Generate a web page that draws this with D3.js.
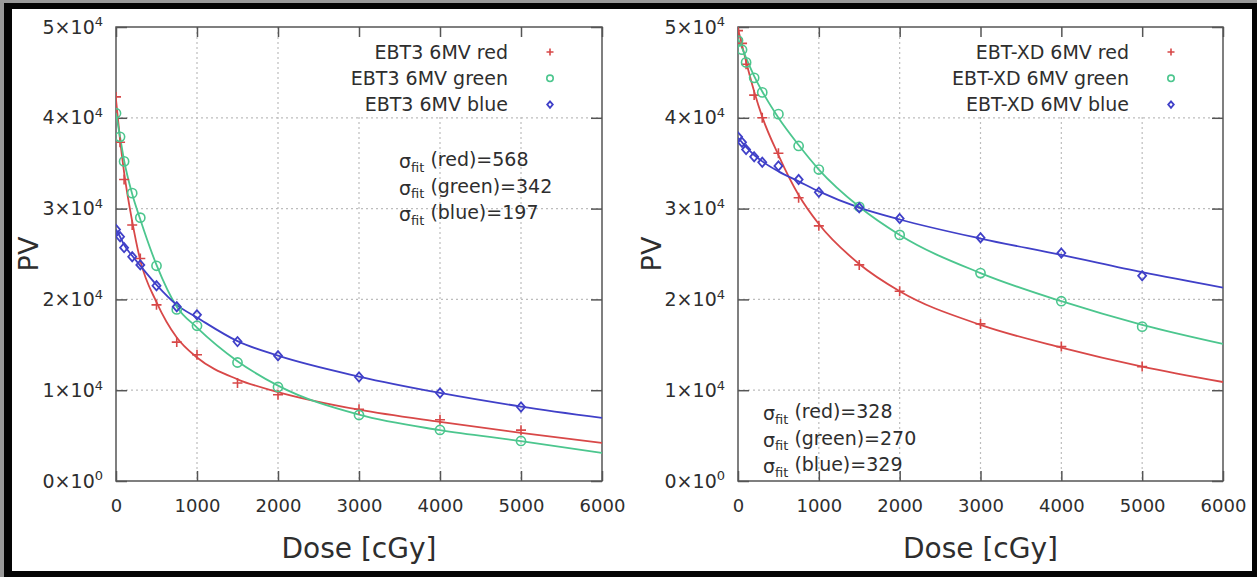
<!DOCTYPE html>
<html>
<head>
<meta charset="utf-8">
<script src="https://cdn.jsdelivr.net/npm/d3@7"></script>
<style>
html,body{margin:0;padding:0;background:#000;}
svg{display:block;}
</style>
</head>
<body>
<svg id="chart" width="1257" height="577"></svg>
<script>
// measured dose points [cGy]
var doses = [0, 50, 100, 200, 300, 500, 750, 1000, 1500, 2000, 3000, 4000, 5000];
var fitDoses = [0, 50, 100, 200, 300, 500, 750, 1000, 1500, 2000, 3000, 4000, 5000, 6000];

// EBT3, measured pixel values
var ebt3Red   = [42300, 37300, 33200, 28200, 24500, 19400, 15300, 13900, 10800, 9500, 7900, 6750, 5600];
var ebt3Green = [40500, 37900, 35200, 31700, 29000, 23700, 18900, 17100, 13050, 10350, 7270, 5620, 4410];
var ebt3Blue  = [27700, 26900, 25700, 24700, 23800, 21500, 19200, 18300, 15350, 13800, 11450, 9690, 8150];
// EBT3, fitted curves
var ebt3RedFit   = [42000, 37600, 34000, 28600, 24300, 19700, 15800, 13600, 11200, 9800, 7850, 6500, 5300, 4200];
var ebt3GreenFit = [40500, 37900, 35300, 31600, 28800, 23800, 19200, 16900, 13200, 10500, 7300, 5600, 4400, 3100];
var ebt3BlueFit  = [27700, 26900, 26000, 24800, 23700, 21600, 19400, 18000, 15400, 13800, 11500, 9700, 8200, 6950];

// EBT-XD, measured pixel values
var xdRed   = [49600, 48200, 45900, 42500, 40000, 36100, 31200, 28100, 23800, 20900, 17300, 14800, 12600];
var xdGreen = [48500, 47500, 46100, 44400, 42800, 40400, 36900, 34300, 30200, 27100, 22900, 19800, 17000];
var xdBlue  = [37900, 37300, 36500, 35700, 35100, 34700, 33200, 31800, 30100, 28900, 26800, 25100, 22600];
// EBT-XD, fitted curves
var xdRedFit   = [49800, 48000, 46200, 42900, 40100, 35900, 31500, 28300, 23900, 20900, 17200, 14700, 12600, 10900];
var xdGreenFit = [48700, 47700, 46600, 44600, 42900, 40000, 37000, 34300, 30200, 27100, 22900, 19800, 17200, 15100];
var xdBlueFit  = [37800, 37300, 36800, 35900, 35200, 34100, 33000, 31900, 30100, 28800, 26700, 24900, 23000, 21300];

var doseTicks = [0, 1000, 2000, 3000, 4000, 5000, 6000];
var pvTicks = [0, 10000, 20000, 30000, 40000, 50000];

var channels = ["red", "green", "blue"];
var ebt3Legend = ["EBT3 6MV red", "EBT3 6MV green", "EBT3 6MV blue"];
var xdLegend = ["EBT-XD 6MV red", "EBT-XD 6MV green", "EBT-XD 6MV blue"];
var ebt3Sigma = [568, 342, 197];
var xdSigma = [328, 270, 329];

var colors = {red: "#d84848", green: "#4cc68e", blue: "#4040c8"};
var FONT = "'DejaVu Sans', Verdana, sans-serif";
var TEXT = "#2e2e2e";

var svg = d3.select("#chart");

// picture frame: grey rim, black border, white page
svg.append("rect").attr("width", 1257).attr("height", 577).attr("fill", "#9a9a9a");
svg.append("rect").attr("x", 4).attr("y", 3).attr("width", 1253).attr("height", 574).attr("fill", "#050505");
svg.append("rect").attr("x", 12).attr("y", 9).attr("width", 1240).attr("height", 562).attr("fill", "#fff");

/**
 * draw a marker symbol
 * @param g group
 * @param ch channel name
 * @param s scale factor
 */
function drawMarker(g, ch, s){
    if(ch === "red"){
        g.append("path").attr("d", "M" + (-5*s) + ",0H" + (5*s) + "M0," + (-5*s) + "V" + (5*s))
            .attr("stroke", colors.red).attr("stroke-width", 1.6).attr("fill", "none");
    }else if(ch === "green"){
        g.append("circle").attr("r", 4.6*s)
            .attr("stroke", colors.green).attr("stroke-width", 1.6).attr("fill", "none");
    }else{
        g.append("path").attr("d", "M0," + (-4.6*s) + "L" + (4*s) + ",0L0," + (4.6*s) + "L" + (-4*s) + ",0Z")
            .attr("stroke", colors.blue).attr("stroke-width", 1.8).attr("fill", "none");
    }
}

/**
 * draw one panel
 * @param cfg panel settings
 */
function drawPanel(cfg){
    var x = d3.scaleLinear().domain([0, 6000]).range([cfg.left, cfg.right]);
    var y = d3.scaleLinear().domain([0, 50000]).range([481, 27]);
    var g = svg.append("g");
    var clipId = "clip" + cfg.left;

    g.append("clipPath").attr("id", clipId)
        .append("rect")
        .attr("x", cfg.left).attr("y", 27)
        .attr("width", cfg.right - cfg.left).attr("height", 454);

    // dotted grid
    g.selectAll("line.gx").data(doseTicks.slice(1, -1)).enter()
        .append("line").classed("gx", true)
        .attr("x1", function(d){return x(d);}).attr("x2", function(d){return x(d);})
        .attr("y1", 27).attr("y2", 481);
    g.selectAll("line.gy").data(pvTicks.slice(1, -1)).enter()
        .append("line").classed("gy", true)
        .attr("x1", cfg.left).attr("x2", cfg.right)
        .attr("y1", function(d){return y(d);}).attr("y2", function(d){return y(d);});
    g.selectAll("line.gx,line.gy")
        .attr("stroke", "#bdbdbd").attr("stroke-width", 1.2).attr("stroke-dasharray", "2,3");

    // key box hides the grid
    g.append("rect")
        .attr("x", cfg.keyLeft).attr("y", 28)
        .attr("width", cfg.right - cfg.keyLeft - 1).attr("height", 89)
        .attr("fill", "#fff");

    // axes, ticks point inward
    var bottom = g.append("g").attr("transform", "translate(0,481)")
        .call(d3.axisBottom(x).tickValues(doseTicks).tickSizeInner(-10).tickSizeOuter(0)
            .tickPadding(18).tickFormat(d3.format("d")));
    var left = g.append("g").attr("transform", "translate(" + cfg.left + ",0)")
        .call(d3.axisLeft(y).tickValues(pvTicks).tickSizeInner(-11).tickSizeOuter(0).tickPadding(13));
    var top = g.append("g").attr("transform", "translate(0,27)")
        .call(d3.axisTop(x).tickValues(doseTicks).tickSizeInner(-10).tickSizeOuter(0).tickFormat(""));
    var right = g.append("g").attr("transform", "translate(" + cfg.right + ",0)")
        .call(d3.axisRight(y).tickValues(pvTicks).tickSizeInner(-11).tickSizeOuter(0).tickFormat(""));

    [bottom, left, top, right].forEach(function(a){
        a.select(".domain").remove();
        a.selectAll(".tick line").attr("stroke", "#555").attr("stroke-width", 1.5);
        a.attr("font-family", FONT).attr("font-size", 18);
        a.selectAll(".tick text").attr("fill", TEXT);
    });
    left.attr("font-size", 19);

    // y labels like 4×10⁴
    left.selectAll(".tick text").each(function(d){
        var t = d3.select(this).text(null);
        var exp = d === 0 ? 0 : 4;
        var man = d === 0 ? 0 : d / 10000;
        t.append("tspan").text(man + "×10");
        t.append("tspan").attr("font-size", 13).attr("dy", "-0.55em").text(exp);
    });

    // frame
    g.append("rect")
        .attr("x", cfg.left).attr("y", 27)
        .attr("width", cfg.right - cfg.left).attr("height", 454)
        .attr("fill", "none").attr("stroke", "#555").attr("stroke-width", 1.5);

    // fitted curves
    var line = d3.line()
        .x(function(d){return x(d[0]);})
        .y(function(d){return y(d[1]);})
        .curve(d3.curveMonotoneX);
    var plot = g.append("g").attr("clip-path", "url(#" + clipId + ")");
    channels.forEach(function(ch, i){
        plot.append("path")
            .datum(d3.zip(fitDoses, cfg.fits[i]))
            .attr("d", line)
            .attr("fill", "none")
            .attr("stroke", colors[ch])
            .attr("stroke-width", 1.8);
    });

    // measured points
    channels.forEach(function(ch, i){
        d3.zip(doses, cfg.points[i]).forEach(function(p){
            var m = plot.append("g").attr("transform", "translate(" + x(p[0]) + "," + y(p[1]) + ")");
            drawMarker(m, ch, 1);
        });
    });

    // key
    cfg.legend.forEach(function(label, i){
        var yy = 52 + i * 26.3;
        g.append("text")
            .attr("x", cfg.right - 94).attr("y", yy).attr("dy", "0.36em")
            .attr("text-anchor", "end")
            .attr("font-family", FONT).attr("font-size", 19).attr("fill", TEXT)
            .text(label);
        var m = g.append("g").attr("transform", "translate(" + (cfg.right - 52) + "," + yy + ")");
        drawMarker(m, channels[i], 0.7);
    });

    // fit errors
    cfg.sigma.forEach(function(v, i){
        var t = g.append("text")
            .attr("x", cfg.sigmaX).attr("y", cfg.sigmaY + i * 26.7).attr("dy", "0.36em")
            .attr("font-family", FONT).attr("font-size", 19).attr("fill", TEXT);
        t.append("tspan").text("σ");
        t.append("tspan").attr("font-size", 13).attr("dy", "0.3em").text("fit");
        t.append("tspan").attr("dy", "-0.3em").text(" (" + channels[i] + ")=" + v);
    });

    // axis titles
    g.append("text")
        .attr("x", (cfg.left + cfg.right) / 2).attr("y", 558)
        .attr("text-anchor", "middle")
        .attr("font-family", FONT).attr("font-size", 28).attr("fill", TEXT)
        .text("Dose [cGy]");
    g.append("text")
        .attr("transform", "translate(" + cfg.pvX + ",254) rotate(-90)")
        .attr("dy", "0.36em")
        .attr("text-anchor", "middle")
        .attr("font-family", FONT).attr("font-size", 27).attr("fill", TEXT)
        .text("PV");
}

drawPanel({
    left: 116, right: 602, keyLeft: 350, pvX: 28,
    sigmaX: 399, sigmaY: 161,
    points: [ebt3Red, ebt3Green, ebt3Blue],
    fits: [ebt3RedFit, ebt3GreenFit, ebt3BlueFit],
    legend: ebt3Legend, sigma: ebt3Sigma
});
drawPanel({
    left: 738, right: 1223, keyLeft: 946, pvX: 651,
    sigmaX: 763, sigmaY: 413,
    points: [xdRed, xdGreen, xdBlue],
    fits: [xdRedFit, xdGreenFit, xdBlueFit],
    legend: xdLegend, sigma: xdSigma
});
</script>
</body>
</html>
